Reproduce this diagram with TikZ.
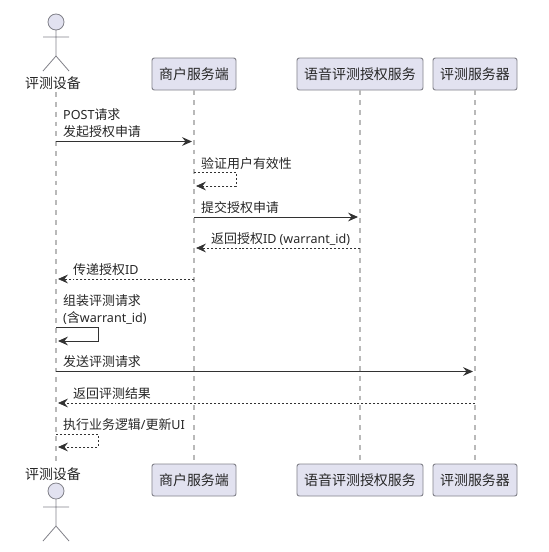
\documentclass[tikz,border=0pt]{standalone}
\usepackage{fontspec}
\setmainfont{Noto Sans CJK SC}
\newfontfamily\latin[Scale=0.97]{Noto Sans}
\usetikzlibrary{arrows.meta}
\definecolor{boxfill}{RGB}{226,226,240}
\definecolor{boxline}{RGB}{130,130,138}
\definecolor{lifegray}{RGB}{185,185,185}
\definecolor{msgcolor}{RGB}{50,50,50}
\tikzset{
    % participant box
    partbox/.style={
        draw=boxline,
        line width=0.8pt,
        fill=boxfill,
        rounded corners=2pt,
        minimum width=2.52cm,
        minimum height=0.96cm,
        inner sep=0pt,
        text=black!85,
        font=\fontsize{11.9}{14}\selectfont
    },
    actorlabel/.style={
        inner sep=0pt,
        text=black!85,
        font=\fontsize{11.9}{14}\selectfont
    },
    lifeline/.style={
        lifegray,
        line width=1pt,
        dash pattern=on 4.2pt off 4.2pt
    },
    actorline/.style={
        boxline,
        line width=0.7pt
    },
    msgtext/.style={
        anchor=west,
        align=left,
        inner sep=0pt,
        text=black!85,
        font=\fontsize{11.05}{14.45}\selectfont
    },
    solidarrow/.style={
        line width=0.8pt,
        msgcolor,
        -{Stealth[length=8.5pt, width=7.5pt, inset=3pt]}
    },
    dotarrow/.style={
        solidarrow,
        line width=0.65pt,
        dash pattern=on 1.7pt off 1.7pt
    }
}
\begin{document}
\begin{tikzpicture}[x=0.03cm,y=-0.03cm]
\useasboundingbox (0,0) rectangle (548,552);

% ===================== lifelines =====================
\node[actorlabel] (devtop) at (53,83) {评测设备};
\node[actorlabel] (devbot) at (53,474) {评测设备};
\node[partbox] (shoptop) at (194,74) {商户服务端};
\node[partbox] (shopbot) at (194,480) {商户服务端};
\node[partbox,minimum width=3.78cm] (authtop) at (360,74) {语音评测授权服务};
\node[partbox,minimum width=3.78cm] (authbot) at (360,480) {语音评测授权服务};
\node[partbox] (evaltop) at (475,74) {评测服务器};
\node[partbox] (evalbot) at (475,480) {评测服务器};

\path
(56,92) coordinate (dev1)
(56,462) coordinate (dev2)
;
\draw[lifeline] (dev1) -- (dev2);
\draw[lifeline] (shoptop) -- (shopbot);
\draw[lifeline] (authtop) -- (authbot);
\draw[lifeline] (evaltop) -- (evalbot);

% ===================== actors =====================
\begin{scope}
\draw[actorline,fill=boxfill] (56,22) circle (8);
\draw[actorline] (56,30) -- (56,56) (43,37) -- (69,37) (43,71) -- (56,56) -- (69,71);
\end{scope}
\begin{scope}[yshift=-13.8cm]
\draw[actorline,fill=boxfill] (56,31) circle (8);
\draw[actorline] (56,39) -- (56,66) (43,47) -- (69,47) (43,81) -- (56,66) -- (69,81);
\end{scope}

% ===================== messages =====================
\path
(56,141.5) coordinate (a1) (192,141.5) coordinate (b1)
(194,172) coordinate (a2) (236,172) coordinate (b2) (236,186) coordinate (c2) (196,186) coordinate (d2)
(194,217) coordinate (a3) (358,217) coordinate (b3)
(360,248) coordinate (a4) (196,248) coordinate (b4)
(194,279) coordinate (a5) (58,279) coordinate (b5)
(56,327) coordinate (a6) (98,327) coordinate (b6) (98,341) coordinate (c6) (58,341) coordinate (d6)
(56,371.5) coordinate (a7) (473,371.5) coordinate (b7)
(475,403) coordinate (a8) (58,403) coordinate (b8)
(56,434) coordinate (a9) (98,434) coordinate (b9) (98,447) coordinate (c9) (58,447) coordinate (d9)
;

\draw[solidarrow] (a1) -- (b1);
\draw[dotarrow] (a2) -- (b2) -- (c2) -- (d2);
\draw[solidarrow] (a3) -- (b3);
\draw[dotarrow] (a4) -- (b4);
\draw[dotarrow] (a5) -- (b5);
\draw[solidarrow] (a6) -- (b6) -- (c6) -- (d6);
\draw[solidarrow] (a7) -- (b7);
\draw[dotarrow] (a8) -- (b8);
\draw[dotarrow] (a9) -- (b9) -- (c9) -- (d9);

% labels
\node[msgtext] (t1) at (63,123.5) {{\latin POST}请求\\发起授权申请};
\node[msgtext] (t2) at (201,164) {验证用户有效性};
\node[msgtext] (t3) at (201,208) {提交授权申请};
\node[msgtext] (t4) at (211,239) {返回授权{\latin ID (warrant\_id)}};
\node[msgtext] (t5) at (73,270) {传递授权{\latin ID}};
\node[msgtext] (t6) at (63,309.5) {组装评测请求\\{\latin (}含{\latin warrant\_id)}};
\node[msgtext] (t7) at (63,362) {发送评测请求};
\node[msgtext] (t8) at (73,394) {返回评测结果};
\node[msgtext] (t9) at (63,425) {执行业务逻辑{\latin /}更新{\latin UI}};
\end{tikzpicture}
\end{document}
